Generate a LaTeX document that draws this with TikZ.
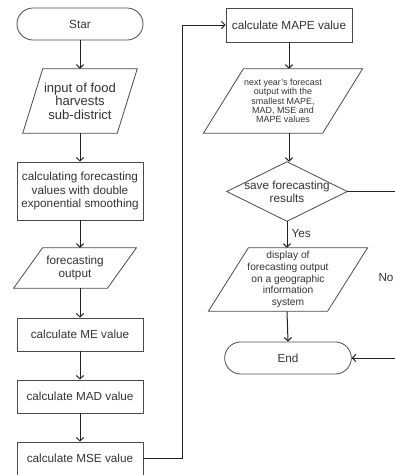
\documentclass[tikz,border=0pt]{standalone}
\usepackage{fontspec}
\setmainfont{Liberation Sans}
\usetikzlibrary{arrows.meta,shapes.misc,shapes.geometric}
\definecolor{txt}{HTML}{333333}
\definecolor{edge}{HTML}{4A4A4A}
\definecolor{conn}{HTML}{222222}
\newcommand{\parashape}[2]{\draw[shapeline] ([xshift=#2]#1.north west) -- ([xshift=#2]#1.north east) -- ([xshift=-#2]#1.south east) -- ([xshift=-#2]#1.south west) -- cycle;}
\tikzset{
  shapeline/.style={draw=edge, line width=0.6pt},
  base/.style={inner sep=0pt, align=center, text=txt, font=\fontsize{8.8}{10}\selectfont},
  term/.style={base, rounded rectangle, shapeline, minimum width=94.5pt, minimum height=24pt},
  proc/.style={base, rectangle, shapeline, minimum width=94.5pt, minimum height=24.75pt},
  plain/.style={base, rectangle},
  conn/.style={draw=conn, line width=0.75pt, -{Straight Barb[length=2.6pt,width=5.5pt]}},
  connline/.style={draw=conn, line width=0.75pt},
  lbl/.style={text=txt, font=\fontsize{8.8}{10}\selectfont, inner sep=0pt}
}
\begin{document}
\begin{tikzpicture}[x=0.75pt, y=-0.75pt]
\useasboundingbox (0,0) rectangle (395,475);
\clip (0,0) rectangle (395,475);
\fill[white] (0,0) rectangle (395,475);

% left column
\node[term] (start) at (80,24) {Star};
\node[plain, minimum width=70.5pt, minimum height=48pt, font=\fontsize{9.8}{10.2}\selectfont] (in) at (80,101) {input of food\\harvests\\sub-district};
\parashape{in}{7.5pt}
\node[proc, minimum height=43.5pt] (calc) at (80,191) {calculating forecasting\\values with double\\exponential smoothing};
\node[plain, minimum width=70pt, minimum height=30pt] (fo) at (75,268) {forecasting\\output};
\parashape{fo}{10.9pt}
\node[proc] (me) at (80,334.5) {calculate ME value};
\node[proc] (mad) at (80,396.5) {calculate MAD value};
\node[proc] (mse) at (80,458.5) {calculate MSE value};

% right column
\node[proc, minimum height=25.5pt] (mape) at (289,25) {calculate MAPE value};
\node[plain, minimum width=89pt, minimum height=48pt, font=\fontsize{6.7}{7}\selectfont] (nxt) at (283,101) {next year's forecast\\output with the\\smallest MAPE,\\MAD, MSE and\\MAPE values};
\parashape{nxt}{15pt}
\node[plain, minimum width=90pt, minimum height=44.25pt] (save) at (287,191.5) {save forecasting\\results};
\draw[shapeline] (save.north) -- (save.east) -- (save.south) -- (save.west) -- cycle;
\node[plain, minimum width=89pt, minimum height=47.25pt, font=\fontsize{7.65}{8.8}\selectfont] (disp) at (288,279.5) {display of\\forecasting output\\on a geographic\\information\\system};
\parashape{disp}{15pt}
\node[term, minimum width=95pt] (end) at (288,358) {End};

\coordinate (m1) at (182,458.5);
\coordinate (m2) at (182,25);
\coordinate (n1) at (396,191.5);
\coordinate (n2) at (396,358);

% connectors
\draw[conn] (start.south) -- (start.south |- in.north);
\draw[conn] (start.south |- in.south) -- (calc.north);
\draw[conn] (calc.south) -- (calc.south |- fo.north);
\draw[conn] (calc.south |- fo.south) -- (me.north);
\draw[conn] (me.south) -- (mad.north);
\draw[conn] (mad.south) -- (mse.north);
\draw[conn] (mse.east) -- (m1) -- (m2) -- (mape.west);
\draw[conn] (mape.south) -- (mape.south |- nxt.north);
\draw[conn] (mape.south |- nxt.south) -- (mape.south |- save.north);
\draw[conn] (save.south) -- (save.south |- disp.north) node[lbl, pos=0.45, right=3pt] {Yes};
\draw[conn] (save.south |- disp.south) -- (end.north);
\draw[conn] (save.east) -- (n1) -- (n2) -- (end.east);
\node[lbl] (no) at (386,278) {No};
\end{tikzpicture}
\end{document}
